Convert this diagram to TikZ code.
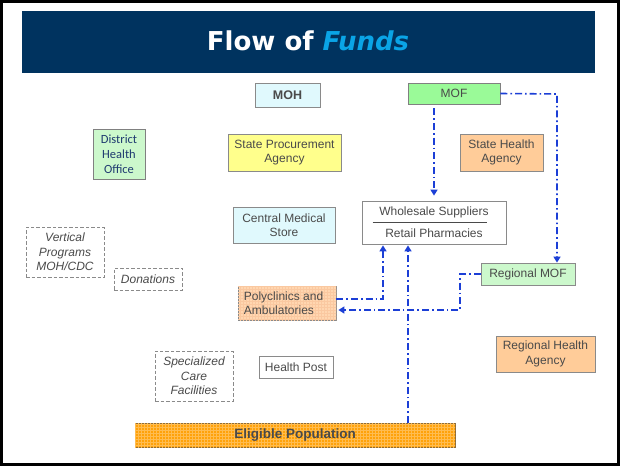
\documentclass[tikz,border=0pt]{standalone}
\usepackage{fontspec}
\setmainfont{Liberation Sans}
\newfontfamily\verdana{DejaVu Sans}
\newfontfamily\calib{Carlito}
\usetikzlibrary{arrows.meta,patterns,calc}
\definecolor{navy}{HTML}{00335F}
\definecolor{fundsblue}{HTML}{0AA4E6}
\definecolor{txtgray}{HTML}{4A4A4A}
\definecolor{bordgray}{HTML}{8A8A8A}
\definecolor{flowblue}{HTML}{1C3FD6}
\definecolor{lcyan}{HTML}{E0F9FD}
\definecolor{mgreen}{HTML}{9AFA98}
\definecolor{lgreen}{HTML}{CCF8CC}
\definecolor{lyellow}{HTML}{FFFF8C}
\definecolor{lorange}{HTML}{FFCC99}
\definecolor{porange}{HTML}{FFD6B0}
\definecolor{pgrid}{HTML}{FAC8A0}
\definecolor{dorange}{HTML}{FFA20A}
\definecolor{egrid}{HTML}{FFBC50}
\definecolor{eborder}{HTML}{8B6B3B}
\definecolor{dhotext}{HTML}{1F3A70}
\tikzset{
  box/.style={draw=bordgray, line width=0.8pt, inner sep=0pt, text=txtgray, align=center,
    font=\fontsize{12}{14.5}\selectfont},
  dbox/.style={box, dashed, dash pattern=on 3.5pt off 2pt, font=\fontsize{12}{14.5}\selectfont\itshape},
  flow/.style={draw=flowblue, line width=1.6pt, dash pattern=on 7pt off 3pt on 1.6pt off 3pt,
    -{Triangle[length=6pt,width=7pt]}},
}
\begin{document}
\begin{tikzpicture}[x=1pt,y=-1pt]
\useasboundingbox (0,0) rectangle (621,466);
\fill[white] (0,0) rectangle (621,466);
\draw[line width=3pt] (1.5,1.5) rectangle (618.5,464.5);
% title
\fill[navy] (22,11) rectangle (595,73);
\node[font=\verdana\bfseries\fontsize{26}{30}\selectfont, text=white] (title) at (308,41)
  {Flow of \textcolor{fundsblue}{\itshape Funds}};
% boxes
\node[box, fill=lcyan, minimum width=65pt, minimum height=24pt, font=\fontsize{12.5}{14}\selectfont\bfseries] (MOH) at (287.5,95) {MOH};
\node[box, fill=mgreen, minimum width=92pt, minimum height=21pt, draw=gray] (MOF) at (454,93.5) {MOF};
\node[box, fill=lgreen, minimum width=52pt, minimum height=50pt, text=dhotext, font=\calib\fontsize{12.5}{15}\selectfont, draw=gray] (DHO) at (119,154) {District\\Health\\Office};
\node[box, fill=lyellow, minimum width=113pt, minimum height=37pt] (SPA) at (284.5,152.5) {State Procurement\\Agency};
\node[box, fill=lorange, minimum width=83pt, minimum height=37pt] (SHA) at (501.5,152.5) {State Health\\Agency};
\node[box, fill=lcyan, minimum width=102pt, minimum height=36pt] (CMS) at (284,225) {Central Medical\\Store};
\node[box, fill=white, minimum width=144pt, minimum height=43pt] (WS) at (434,222.5) {};
\node[box, draw=none, font=\fontsize{12}{13}\selectfont] (WSa) at (434,212.5) {Wholesale Suppliers};
\node[box, draw=none, font=\fontsize{12}{13}\selectfont] (WSb) at (434,233.5) {Retail Pharmacies};
\draw[txtgray, line width=0.8pt] ($(WS.west)+(11,0)$) -- ($(WS.east)+(-19,0)$);
\node[dbox, minimum width=78pt, minimum height=50pt] (VP) at (65,252) {Vertical\\Programs\\MOH/CDC};
\node[dbox, minimum width=68pt, minimum height=22pt] (DON) at (148,279) {Donations};
\node[box, fill=lgreen, minimum width=94pt, minimum height=22pt] (RMOF) at (528,274) {Regional MOF};
\node[box, fill=porange, minimum width=98pt, minimum height=34pt,
  postaction={pattern=grid, pattern color=pgrid}] (POLY) at (287,303) {};
\node[box, draw=none, align=left, anchor=west] (POLYt) at (243.5,303) {Polyclinics and\\Ambulatories};
\node[box, fill=lorange, minimum width=99pt, minimum height=36pt] (RHA) at (545.5,354) {Regional Health\\Agency};
\node[dbox, minimum width=78pt, minimum height=50pt] (SCF) at (194,376) {Specialized\\Care\\Facilities};
\node[box, fill=white, minimum width=74pt, minimum height=22pt] (HP) at (296,367) {Health Post};
\node[box, fill=dorange, minimum width=320pt, minimum height=24pt, draw=eborder,
  postaction={pattern=grid, pattern color=egrid}] (EP) at (295,435) {};
\node[box, draw=none, font=\fontsize{13.5}{15}\selectfont\bfseries] (EPt) at (295,435) {Eligible Population};
% flows
\coordinate (a1) at ($(MOF.south)+(-20,4)$);
\draw[flow] (a1) -- ($(WS.north)+(0,-5)$);
\coordinate (a2) at (557,94);
\draw[flow] (MOF.east) -- (a2) -- (a2 |- RMOF.north);
\coordinate (a3) at (460,310);
\draw[flow] (RMOF.west) -| (a3) -- ($(POLY.east)+(2,7)$);
\coordinate (a4) at (383,299);
\draw[flow] ($(POLY.east)+(0,-4)$) -- (a4) -- ($(a4 |- WS.south)+(0,1)$);
\coordinate (a5) at (408,423);
\draw[flow] (a5) -- ($(a5 |- WS.south)+(0,1)$);
\end{tikzpicture}
\end{document}
